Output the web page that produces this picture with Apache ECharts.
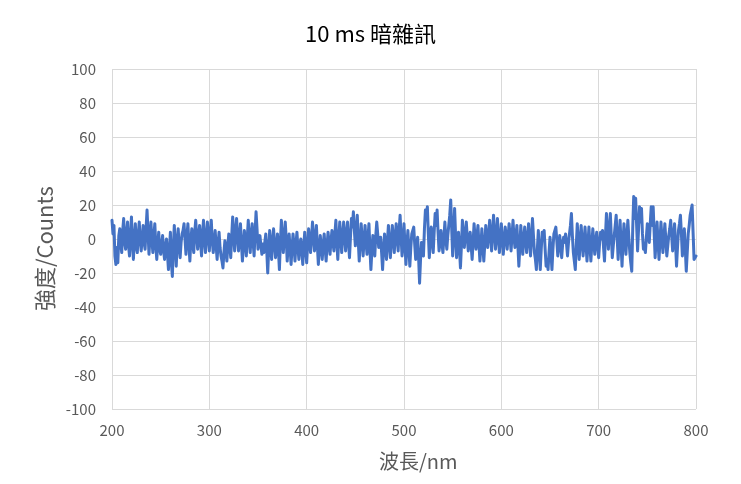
<!DOCTYPE html>
<html><head><meta charset="utf-8">
<script src="https://cdn.jsdelivr.net/npm/echarts@6/dist/echarts.min.js"></script>
<style>html,body{margin:0;padding:0;background:#fff}#c{width:741px;height:484px}</style>
</head><body><div id="c"></div>
<script>
const titleText = "10 ms 暗雜訊";
const xName = "波長/nm";
const yName = "強度/Counts";
const xStart = 200, xStep = 1;
const counts = [
 11, 3, 8, -10, -15, -5, -14, 2, 6, -3,
 -8, 5, 12, -2, -6, 4, 10, -4, -10, 2,
 13, -3, -12, 1, 9, -5, -8, 3, 10, -1,
 -7, 0, 8, -2, -6, 6, 17, 4, -9, 1,
 10, -1, -8, 2, 9, -4, -12, -3, 4, -6,
 -9, -3, 2, -7, -12, -4, 0, -9, -18, -6,
 4, -14, -22, -5, 8, -3, -16, -2, 6, -4,
 -11, -2, 3, 5, 9, 0, -9, 2, 9, -3,
 -13, -1, 6, -3, -8, 4, 11, 2, -6, 1,
 8, -2, -10, 3, 11, -1, -8, 2, 10, 1,
 -7, 4, 11, -1, -8, -2, 5, -4, -12, -3,
 4, -5, -10, -13, -17, -8, -1, -6, -13, -4,
 3, -4, -11, 2, 13, 3, -7, 4, 12, 1,
 -7, 2, 9, -3, -13, -4, 5, -2, -10, 1,
 11, 0, -8, 3, 9, -2, -10, 4, 16, 6,
 -6, -1, 2, -4, -9, -3, -8, -2, 3, -7,
 -20, -6, 5, -4, -12, -1, 6, -3, -11, -5,
 3, -7, -18, -2, 11, 2, -8, 1, 10, 0,
 -13, -4, 3, -6, -15, -5, 3, -4, -13, -3,
 4, -5, -12, -3, 0, -7, -15, -4, 4, -6,
 -14, -3, 6, -2, -8, 1, 10, 2, -7, 0,
 8, -4, -15, -6, 2, -5, -12, -3, 3, -6,
 -13, -3, 4, -3, -9, -1, 5, -2, -7, 3,
 11, -2, -12, 0, 10, 1, -8, 2, 10, 2,
 -7, 3, 10, -2, -11, 1, 12, 7, 16, 5,
 -4, 5, 14, -1, -13, -2, 9, 0, -10, -1,
 8, -2, -9, 1, 9, -6, -18, -7, 2, -4,
 -10, 2, 10, 3, -5, -1, 1, -8, -18, -6,
 3, -5, -12, -1, 8, -3, -11, -1, 8, 0,
 -8, 2, 9, 0, -7, 5, 14, 1, -10, -2,
 9, -4, -15, -3, 5, -6, -16, -5, 3, 2,
 7, -3, -12, -4, 1, -11, -26, -12, -2, -7,
 -10, 6, 17, 12, 19, 3, -11, -1, 7, 0,
 -8, 4, 15, 8, 17, 4, -7, -2, 5, -3,
 -8, 1, 10, 0, -6, 2, 8, 14, 23, 6,
 -10, 3, 18, 2, -11, -3, 4, -6, -17, -4,
 11, 2, -5, 3, 10, 1, -7, -1, 4, -4,
 -12, -2, 9, 1, -6, 2, 8, -3, -13, -4,
 6, -5, -13, -3, 8, 0, -5, 3, 11, 2,
 -7, 4, 14, 3, -6, 2, 12, 1, -8, 0,
 9, 0, -9, -1, 7, 1, -6, 2, 9, 1,
 -7, 2, 11, 1, -5, 2, 8, -4, -16, -5,
 8, -1, -9, 0, 7, -1, -8, 1, 9, -1,
 -10, 1, 12, 2, -8, -12, -18, -6, 5, -7,
 -18, -6, 4, 1, 5, -6, -16, -12, -18, -8,
 1, -8, -18, -6, 3, 4, 7, -1, -10, -4,
 2, -4, -11, -3, 1, -2, 3, -3, -10, -2,
 3, 8, 15, 2, -8, -13, -18, -4, 9, -1,
 -12, -2, 8, -1, -10, -2, 7, -3, -13, -3,
 7, -4, -13, -3, 6, -2, -9, -1, 4, -4,
 -11, -2, 4, 0, 5, -5, -13, 2, 15, 4,
 -6, 6, 15, 1, -11, -4, 2, 8, 14, 1,
 -12, 0, 11, -3, -16, -2, 9, -1, -9, 2,
 11, 1, -8, -14, -19, 6, 25, 12, 24, 8,
 -7, 6, 19, 10, 18, 3, -6, -4, -8, 1,
 9, 3, -2, 9, 19, 8, 19, 4, -11, -1,
 10, -2, -12, -1, 10, 1, -8, 0, 9, 0,
 -10, -4, 2, 6, 11, 2, -7, 1, 9, -3,
 -16, -5, 5, 9, 14, 3, -10, -2, 6, -6,
 -19, -8, 3, 8, 14, 17, 20, 4, -12, -11,
 -10
];
const data = counts.map((v, i) => [xStart + i * xStep, v]);
const chart = echarts.init(document.getElementById('c'), null, {renderer: 'canvas'});
const font = "'Noto Sans CJK TC', 'Noto Sans', sans-serif";
chart.setOption({
  animation: false,
  backgroundColor: '#fff',
  title: {text: titleText, left: 'center', top: 18,
    textStyle: {fontFamily: font, fontSize: 22, fontWeight: 'normal', color: '#000'}},
  grid: {left: 112, right: 45, top: 69, bottom: 75, containLabel: false},
  xAxis: {type: 'value', min: 200, max: 800, interval: 100,
    axisLine: {show: false}, axisTick: {show: false},
    splitLine: {show: true, lineStyle: {color: '#d9d9d9', width: 1}},
    axisLabel: {color: '#595959', fontSize: 15, fontFamily: font, margin: 14}},
  yAxis: {type: 'value', min: -100, max: 100, interval: 20,
    axisLine: {show: false}, axisTick: {show: false},
    splitLine: {show: true, lineStyle: {color: '#d9d9d9', width: 1}},
    axisLabel: {color: '#595959', fontSize: 15, fontFamily: font, margin: 16}},
  graphic: [
    {type: 'text', left: 379, top: 451, style: {text: xName, font: "20px " + font, fill: '#595959'}},
    {type: 'text', x: 34, y: 311, rotation: Math.PI / 2,
      style: {text: yName, font: "22px " + font, fill: '#595959'}}
  ],
  series: [{type: 'line', data: data, showSymbol: false, symbol: 'none',
    lineStyle: {color: '#4472C4', width: 3, join: 'round', cap: 'round'}, itemStyle: {color: '#4472C4'}}]
});
</script></body></html>
